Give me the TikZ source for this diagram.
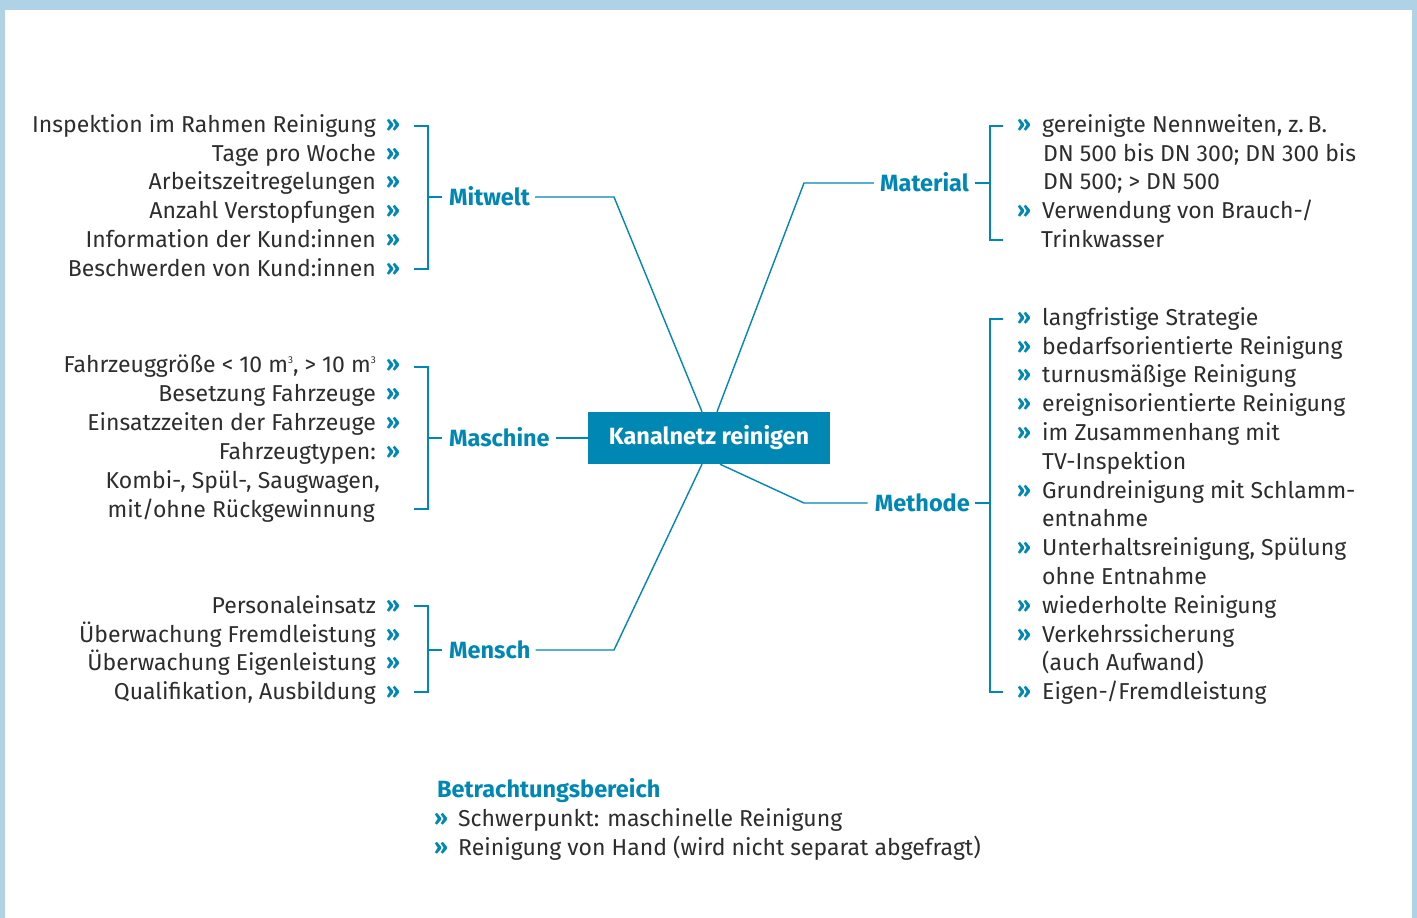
\documentclass[tikz,border=0pt]{standalone}
\usepackage{fontspec}
\setmainfont{Fira Sans}
\definecolor{mainblue}{RGB}{0,135,180}
\definecolor{frameblue}{RGB}{176,210,230}
\definecolor{txt}{RGB}{45,45,45}
\newcommand{\cubed}{\raisebox{0.75ex}{\fontsize{10}{10}\selectfont 3}}
\begin{document}
\begin{tikzpicture}[x=1pt,y=-1pt,
  item/.style={font=\fontsize{23}{26}\selectfont, text=txt, inner sep=0pt},
  bul/.style={font=\fontsize{22}{26}\selectfont\bfseries, text=mainblue, inner sep=0pt},
  cat/.style={font=\fontsize{23.5}{26}\selectfont\bfseries, text=mainblue, inner sep=0pt},
  link/.style={draw=mainblue, line width=1.4pt},
  brk/.style={draw=mainblue, line width=1.4pt}]
% frame
\fill[frameblue] (0,0) rectangle (1417,918);
\fill[white] (5,10) rectangle (1412,918);
\useasboundingbox (0,0) rectangle (1417,918);

% central node
\node[fill=mainblue, text=white, font=\fontsize{23.5}{26}\selectfont\bfseries,
      minimum width=242pt, minimum height=52pt, inner sep=0pt] (core) at (709,438) {Kanalnetz reinigen};

% category labels
\node[cat, anchor=mid west] (mitwelt) at (449,203) {Mitwelt};
\node[cat, anchor=mid west] (maschine) at (449,444) {Maschine};
\node[cat, anchor=mid west] (mensch) at (449,656) {Mensch};
\node[cat, anchor=mid east] (material) at (969,189) {Material};
\node[cat, anchor=mid east] (methode) at (970,509) {Methode};

% connectors from the core to the categories
\coordinate (kMit) at (614,197);
\coordinate (kMat) at (804,183);
\coordinate (kMen) at (614,650);
\coordinate (kMet) at (804,503);
\draw[link] ([xshift=-7pt]core.north) -- (kMit) -- ([xshift=5pt]mitwelt.east |- kMit);
\draw[link] ([xshift=8pt]core.north) -- (kMat) -- ([xshift=-6pt]material.west |- kMat);
\draw[link] (core.west) -- ([xshift=6pt]maschine.east |- core.west);
\draw[link] ([xshift=-7pt]core.south) -- (kMen) -- ([xshift=5pt]mensch.east |- kMen);
\draw[link] ([xshift=11pt]core.south) -- (kMet) -- ([xshift=-7pt]methode.west |- kMet);

% left brackets
\draw[brk] (414,126) -- (428,126) -- (428,269) -- (414,269);
\draw[brk] (428,197) -- ([xshift=-7pt]mitwelt.west |- 0,197);
\draw[brk] (414,367) -- (428,367) -- (428,509) -- (414,509);
\draw[brk] (428,438) -- ([xshift=-7pt]maschine.west |- 0,438);
\draw[brk] (414,606) -- (428,606) -- (428,692) -- (414,692);
\draw[brk] (428,650) -- ([xshift=-7pt]mensch.west |- 0,650);

% right brackets
\draw[brk] (1003,126) -- (990,126) -- (990,240) -- (1003,240);
\draw[brk] (990,183) -- ([xshift=6pt]material.east |- 0,183);
\draw[brk] (1003,319) -- (990,319) -- (990,692) -- (1003,692);
\draw[brk] (990,503) -- ([xshift=5pt]methode.east |- 0,503);

% Mitwelt items
\foreach \y/\t [count=\i] in {124/Inspektion im Rahmen Reinigung, 153/Tage pro Woche,
    181/Arbeitszeitregelungen, 210/Anzahl Verstopfungen,
    239/Information der Kund:innen, 268/Beschwerden von Kund:innen}{
  \node[item, anchor=mid east] (mw\i) at (376,\y+6) {\t};
  \node[bul, anchor=mid] (mwb\i) at (393,\y+5) {»};
}

% Maschine items
\foreach \y/\t [count=\i] in {364/{Fahrzeuggröße < 10 m\cubed, > 10 m\cubed}, 393/Besetzung Fahrzeuge,
    422/Einsatzzeiten der Fahrzeuge, 451/Fahrzeugtypen:}{
  \node[item, anchor=mid east] (ms\i) at (376,\y+6) {\t};
  \node[bul, anchor=mid] (msb\i) at (393,\y+5) {»};
}
\node[item, anchor=mid east] (ms5) at (380,486) {Kombi-, Spül-, Saugwagen,};
\node[item, anchor=mid east] (ms6) at (375,515) {mit/ohne Rückgewinnung};

% Mensch items
\foreach \y/\t [count=\i] in {605/Personaleinsatz, 634/Überwachung Fremdleistung,
    662/Überwachung Eigenleistung, 691/{Qualifikation, Ausbildung}}{
  \node[item, anchor=mid east] (mn\i) at (376,\y+6) {\t};
  \node[bul, anchor=mid] (mnb\i) at (393,\y+5) {»};
}

% Material items
\node[bul, anchor=mid] (mab1) at (1024,129) {»};
\node[item, anchor=mid west] (ma1) at (1042,130) {gereinigte Nennweiten, z.\,B.};
\node[item, anchor=mid west] (ma2) at (1043,159) {DN 500 bis DN 300; DN 300 bis};
\node[item, anchor=mid west] (ma3) at (1043,187) {DN 500; > DN 500};
\node[bul, anchor=mid] (mab2) at (1024,215) {»};
\node[item, anchor=mid west] (ma4) at (1042,216) {Verwendung von Brauch-/};
\node[item, anchor=mid west] (ma5) at (1041,245) {Trinkwasser};

% Methode items (b = with bullet, c = continuation line)
\foreach \y/\k/\t [count=\i] in {317/b/langfristige Strategie, 346/b/bedarfsorientierte Reinigung,
    374/b/turnusmäßige Reinigung, 403/b/ereignisorientierte Reinigung,
    432/b/im Zusammenhang mit, 461/c/TV-Inspektion,
    490/b/Grundreinigung mit Schlamm-, 518/c/entnahme,
    547/b/{Unterhaltsreinigung, Spülung}, 576/c/ohne Entnahme,
    605/b/wiederholte Reinigung, 634/b/Verkehrssicherung,
    662/c/(auch Aufwand), 691/b/{Eigen-/Fremdleistung}}{
  \node[item, anchor=mid west] (me\i) at (1042,\y+6) {\t};
  \if b\k \node[bul, anchor=mid] (meb\i) at (1024,\y+5) {»}; \fi
}

% scope note
\node[cat, anchor=mid west] (scope) at (437,795) {Betrachtungsbereich};
\node[bul, anchor=mid] (sb1) at (441,823) {»};
\node[item, anchor=mid west] (s1) at (458,824) {Schwerpunkt: maschinelle Reinigung};
\node[bul, anchor=mid] (sb2) at (441,852) {»};
\node[item, anchor=mid west] (s2) at (458,853) {Reinigung von Hand (wird nicht separat abgefragt)};
\end{tikzpicture}
\end{document}
